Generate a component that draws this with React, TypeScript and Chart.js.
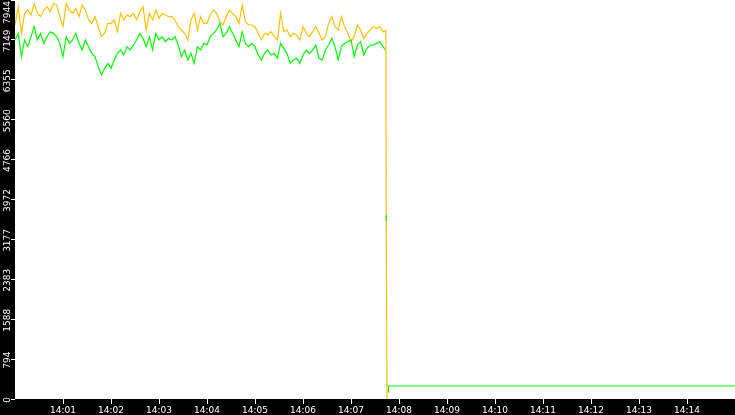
import React, { useEffect, useRef } from "react";
import { Chart, registerables } from "chart.js";

Chart.register(...registerables);

// seconds after 14:00:00 between samples of the two traces
const SAMPLE_STEP_SEC = 4;

// upper (orange) trace, one value every 4 s from 14:00:00
const orangeTrace = [
  7446, 7811, 7280, 7679, 7745, 7645, 7878, 7679, 7612, 7745,
  7811, 7712, 7878, 7844, 7612, 7413, 7878, 7745, 7679, 7778,
  7612, 7844, 7745, 7546, 7479, 7612, 7413, 7214, 7280, 7479,
  7479, 7546, 7313, 7679, 7546, 7645, 7612, 7679, 7546, 7712,
  7811, 7347, 7679, 7546, 7745, 7579, 7679, 7645, 7612, 7612,
  7546, 7413, 7347, 7280, 7148, 7546, 7679, 7347, 7612, 7479,
  7479, 7645, 7745, 7679, 7513, 7446, 7612, 7745, 7679, 7612,
  7479, 7844, 7513, 7446, 7446, 7413, 7280, 7148, 7280, 7247,
  7313, 7214, 7148, 7679, 7313, 7347, 7214, 7280, 7247,
  7148, 7413, 7280, 7214, 7313, 7413, 7280, 7148, 7214, 7479,
  7612, 7413, 7347, 7612, 7413, 7280, 7114, 7214, 7446, 7347,
  7181, 7280, 7347, 7413, 7380, 7413, 7313,
];

// lower (green) trace, one value every 4 s from 14:00:00
const greenTrace = [
  7148, 7280, 6816, 7148, 7015, 7214, 7413, 7148, 7280, 7081,
  7214, 7313, 7280, 7214, 7081, 6816, 7214, 7081, 7148, 7280,
  7081, 6948, 7148, 7015, 6882, 6816, 6617, 6451, 6583, 6683,
  6583, 6749, 6882, 6948, 6849, 7015, 6948, 7048, 7148, 7280,
  7181, 7015, 7214, 6948, 7280, 7148, 7214, 7114, 7181, 7148,
  7214, 7048, 6816, 6948, 6749, 6882, 6683, 7015, 6948, 7081,
  7048, 7214, 7280, 7347, 7479, 7214, 7280, 7413, 7280, 7148,
  7015, 7313, 7081, 7015, 7081, 7015, 6849, 6749, 6882, 6948,
  6849, 6882, 6783, 7081, 6982, 6882, 6683, 6749, 6783,
  6683, 6849, 6948, 6882, 6948, 7048, 6783, 6749, 6948, 7048,
  7181, 7015, 6749, 7015, 7081, 7114, 7148, 6816, 7048, 7114,
  6849, 6982, 7048, 7048, 7081, 7114, 7015,
];

// the drop just before 14:08
const orangeTailSec = [463.6, 464, 465];
const orangeTailVal = [7330, 3620, 0];
const greenTailSec = [463, 463.6, 464, 464.2, 465, 466.6, 466.8, 900];
const greenTailVal: (number | null)[] = [6950, null, 3658, 3539, null, 133, 259, 259];

const xTickSec = [60, 120, 180, 240, 300, 360, 420, 480, 540, 600, 660, 720, 780, 840];
const xTickLabels = [
  "14:01", "14:02", "14:03", "14:04", "14:05", "14:06", "14:07",
  "14:08", "14:09", "14:10", "14:11", "14:12", "14:13", "14:14",
];
const yMax = 7944;
const yTickValues = [0, 794.4, 1588.8, 2383.2, 3177.6, 3972, 4766.4, 5560.8, 6355.2, 7149.6, 7944];
const yTickLabels = ["0", "794", "1588", "2383", "3177", "3972", "4766", "5560", "6355", "7149", "7944"];

const FONT = "'DejaVu Sans', sans-serif";

function buildSeries(trace: number[], tailSec: number[], tailVal: (number | null)[]) {
  const pts: { x: number; y: number | null }[] = trace.map((v, i) => ({ x: i * SAMPLE_STEP_SEC, y: v }));
  tailSec.forEach((s, i) => pts.push({ x: s, y: tailVal[i] }));
  return pts;
}

const backgroundPlugin = {
  id: "bgPlugin",
  beforeDraw(chart: any) {
    const { ctx, width, height, chartArea } = chart;
    ctx.save();
    ctx.fillStyle = "#000000";
    ctx.fillRect(0, 0, width, height);
    ctx.fillStyle = "#ffffff";
    ctx.fillRect(chartArea.left, chartArea.top, chartArea.right - chartArea.left, chartArea.bottom - chartArea.top);
    ctx.restore();
  },
};

const yLabelPlugin = {
  id: "yLabelPlugin",
  afterDraw(chart: any) {
    const scale = chart.scales.y;
    const { ctx } = chart;
    ctx.save();
    ctx.font = `9px ${FONT}`;
    ctx.fillStyle = "#ffffff";
    ctx.textAlign = "center";
    ctx.textBaseline = "alphabetic";
    scale.ticks.forEach((t: any) => {
      const label = String(t.label);
      const w = ctx.measureText(label).width;
      let cy = scale.getPixelForValue(t.value) + 1;
      cy = Math.max(w / 2 + 1, Math.min(chart.chartArea.bottom + 2, cy));
      ctx.save();
      ctx.translate(scale.right - 5.5, cy);
      ctx.rotate(-Math.PI / 2);
      ctx.fillText(label, 0, 0);
      ctx.restore();
    });
    ctx.restore();
  },
};

export default function App() {
  const canvasRef = useRef<HTMLCanvasElement | null>(null);

  useEffect(() => {
    if (!canvasRef.current) return;
    const chart = new Chart(canvasRef.current, {
      type: "line",
      data: {
        datasets: [
          {
            label: "green",
            data: buildSeries(greenTrace, greenTailSec, greenTailVal) as any,
            borderColor: "#00ff00",
            borderWidth: 1.2,
            pointRadius: 0,
            tension: 0,
            spanGaps: false,
            fill: false,
          },
          {
            label: "orange",
            data: buildSeries(orangeTrace, orangeTailSec, orangeTailVal) as any,
            borderColor: "#ffc000",
            borderWidth: 1.2,
            pointRadius: 0,
            tension: 0,
            spanGaps: false,
            fill: false,
          },
        ],
      },
      options: {
        animation: false,
        responsive: false,
        devicePixelRatio: 1,
        layout: { padding: 0 },
        plugins: { legend: { display: false }, tooltip: { enabled: false } },
        scales: {
          x: {
            type: "linear",
            min: 0,
            max: 900,
            afterBuildTicks: (s: any) => {
              s.ticks = xTickSec.map((v) => ({ value: v }));
            },
            afterFit: (s: any) => {
              s.height = 16;
            },
            ticks: {
              autoSkip: false,
              maxRotation: 0,
              minRotation: 0,
              color: "#ffffff",
              font: { family: FONT, size: 9 },
              padding: 1,
              callback: (_v: any, i: number) => xTickLabels[i],
            },
            grid: { drawOnChartArea: false, drawTicks: true, tickLength: 5, color: "#ffffff", lineWidth: 1 },
            border: { display: false },
          },
          y: {
            type: "linear",
            min: 0,
            max: yMax,
            afterBuildTicks: (s: any) => {
              s.ticks = yTickValues.map((v) => ({ value: v }));
            },
            afterFit: (s: any) => {
              s.width = 15;
            },
            ticks: {
              display: false,
              callback: (_v: any, i: number) => yTickLabels[i],
            },
            grid: { drawOnChartArea: false, drawTicks: true, tickLength: 4, color: "#ffffff", lineWidth: 1 },
            border: { display: false },
          },
        },
      },
      plugins: [backgroundPlugin, yLabelPlugin],
    });
    return () => chart.destroy();
  }, []);

  return (
    <div style={{ position: "absolute", left: 0, top: 0, width: 735, height: 415 }}>
      <canvas ref={canvasRef} width={735} height={415} style={{ display: "block" }} />
    </div>
  );
}
